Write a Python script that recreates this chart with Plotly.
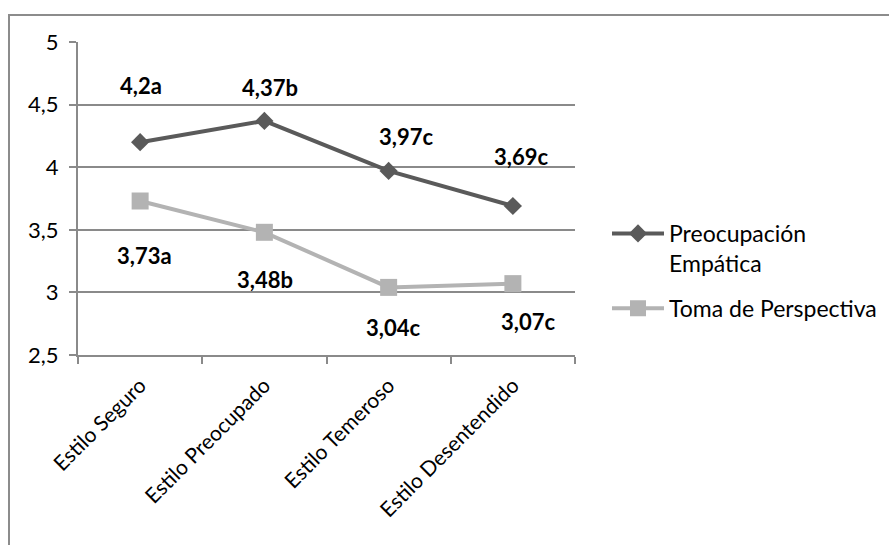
import plotly.graph_objects as go

# Data
categories = ["Estilo Seguro", "Estilo Preocupado", "Estilo Temeroso", "Estilo Desentendido"]
preocupacion = [4.2, 4.37, 3.97, 3.69]
preocupacion_letters = ["a", "b", "c", "c"]
perspectiva = [3.73, 3.48, 3.04, 3.07]
perspectiva_letters = ["a", "b", "c", "c"]
series_names = ["Preocupación<br>Empática", "Toma de Perspectiva"]
y_ticks = [2.5, 3, 3.5, 4, 4.5, 5]
y_tick_labels = ["2,5", "3", "3,5", "4", "4,5", "5"]

DARK = "#5a5a5a"
LIGHT = "#b3b3b3"
GRID = "#8a8a8a"
FONT = "Lato"

W, H = 889, 545
ML, MR, MT, MB = 78, W - 575, 42, H - 355

fig = go.Figure()
fig.add_trace(go.Scatter(
    x=categories, y=preocupacion, name=series_names[0], mode="lines+markers",
    legendgroup="pe",
    line=dict(color=DARK, width=4),
    marker=dict(symbol="diamond", size=14, color=DARK),
))
fig.add_trace(go.Scatter(
    x=categories, y=perspectiva, name=series_names[1], mode="lines+markers",
    legendgroup="tp",
    line=dict(color=LIGHT, width=4),
    marker=dict(symbol="square", size=17, color=LIGHT),
))


def fmt(v, letter):
    return f"{v:g}".replace(".", ",") + letter


pw = W - ML - MR
ph = H - MT - MB


def px_x(p):
    return (p - ML) / pw


def px_y(p):
    return (H - MB - p) / ph


# label offsets (pixels) relative to each point
top_offsets = [(1, 57), (6, 33), (17, 34), (8, 50)]
bottom_offsets = [(4, -54), (1, -47), (4, -40), (15, -38)]

label_font = dict(family=FONT, size=22, color="#000000", weight="bold")
annotations = []
for cat, v, let, (dx, dy) in zip(categories, preocupacion, preocupacion_letters, top_offsets):
    annotations.append(dict(x=cat, y=v, xref="x", yref="y", text=fmt(v, let),
                            showarrow=False, xshift=dx, yshift=dy, font=label_font))
for cat, v, let, (dx, dy) in zip(categories, perspectiva, perspectiva_letters, bottom_offsets):
    annotations.append(dict(x=cat, y=v, xref="x", yref="y", text=fmt(v, let),
                            showarrow=False, xshift=dx, yshift=dy, font=label_font))

# outer chart border
shapes = [dict(type="rect", xref="paper", yref="paper",
               x0=px_x(9), x1=px_x(W + 20), y0=px_y(H + 20), y1=px_y(15),
               line=dict(color="#8c8c8c", width=2), fillcolor="rgba(0,0,0,0)", layer="below")]

fig.update_layout(
    template="none",
    width=W, height=H,
    margin=dict(l=ML, r=MR, t=MT, b=MB, pad=0),
    paper_bgcolor="white", plot_bgcolor="white",
    font=dict(family=FONT, size=20, color="#000000"),
    showlegend=True,
    legend=dict(xref="container", yref="container",
                x=607 / W, y=1 - 212 / H, xanchor="left", yanchor="top",
                font=dict(family=FONT, size=23, color="#000000"),
                valign="top", tracegroupgap=12, itemwidth=52,
                borderwidth=0, bgcolor="rgba(0,0,0,0)"),
    annotations=annotations,
    shapes=shapes,
    xaxis=dict(
        type="category", range=[-0.5, len(categories) - 0.5], automargin=False,
        showgrid=False, showline=True, linecolor=GRID, linewidth=2,
        ticks="outside", tickson="boundaries", ticklen=7, tickcolor=GRID, tickwidth=2,
        tickangle=-45, tickfont=dict(family=FONT, size=21, color="#000000"),
        ticklabelstandoff=8, zeroline=False, fixedrange=True,
    ),
    yaxis=dict(
        range=[2.5, 5], tickvals=y_ticks, ticktext=y_tick_labels, automargin=False,
        showgrid=True, gridcolor=GRID, gridwidth=1.5,
        showline=True, linecolor=GRID, linewidth=2,
        ticks="outside", ticklen=7, tickcolor=GRID, tickwidth=2,
        tickfont=dict(family=FONT, size=22, color="#000000"),
        ticklabelstandoff=6, zeroline=False, fixedrange=True,
    ),
)

fig.write_html("out.html")
